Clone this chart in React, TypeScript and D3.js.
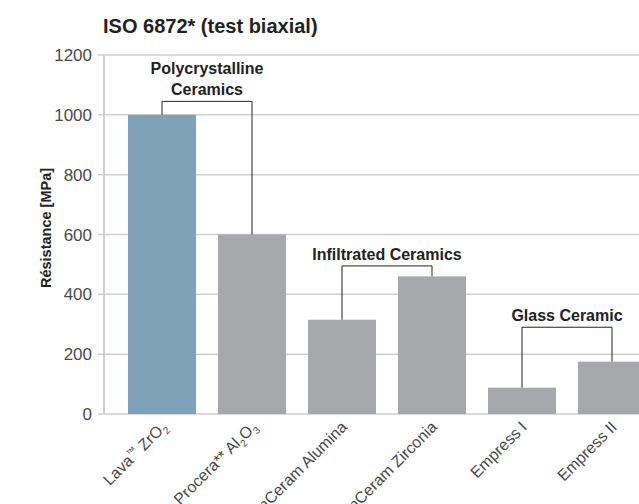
import { scaleBand, scaleLinear } from "d3";

// chart values
const categories = [
  "Lava ZrO2",
  "Procera Al2O3",
  "InCeram Alumina",
  "InCeram Zirconia",
  "Empress I",
  "Empress II",
];
const strengths = [1000, 600, 315, 460, 88, 175];
const barColors = ["#7fa2b8", "#a7a8ab", "#a7a8ab", "#a7a8ab", "#a7a8ab", "#a7a8ab"];

// x tick labels, split in runs: "n" normal, "sup" superscript, "sub" subscript
const tickLabels: [string, string][][] = [
  [["Lava", "n"], ["™", "sup"], [" ZrO", "n"], ["2", "sub"]],
  [["Procera** Al", "n"], ["2", "sub"], ["O", "n"], ["3", "sub"]],
  [["InCeram Alumina", "n"]],
  [["InCeram Zirconia", "n"]],
  [["Empress I", "n"]],
  [["Empress II", "n"]],
];

const yTicks = [0, 200, 400, 600, 800, 1000, 1200];

// bracket groups
const groupLabels = [["Polycrystalline", "Ceramics"], ["Infiltrated Ceramics"], ["Glass Ceramic"]];
const groupMembers = [
  ["Lava ZrO2", "Procera Al2O3"],
  ["InCeram Alumina", "InCeram Zirconia"],
  ["Empress I", "Empress II"],
];
const groupLevels = [1045, 495, 290];

const W = 639;
const H = 504;
const axisX = 104;
const font = "'Liberation Sans', Arial, sans-serif";

export default function App() {
  const y = scaleLinear().domain([0, 1200]).range([414, 55]);
  const x = scaleBand()
    .domain(categories)
    .range([117, 657])
    .paddingInner(22 / 90)
    .paddingOuter(11 / 90);
  const cx = (c: string) => (x(c) ?? 0) + x.bandwidth() / 2;

  return (
    <svg
      width={W}
      height={H}
      style={{ position: "absolute", left: 0, top: 0, background: "#fff" }}
      fontFamily={font}
    >
      {/* title */}
      <text x={103} y={33} fontSize={20} fontWeight="bold" fill="#222">
        ISO 6872* (test biaxial)
      </text>

      {/* grid + y ticks */}
      {yTicks.map((t) => (
        <g key={`grid-${t}`}>
          <line x1={98} x2={W} y1={y(t)} y2={y(t)} stroke="#cfcfd0" strokeWidth={1.5} />
          <text
            x={92}
            y={y(t)}
            dy="0.36em"
            textAnchor="end"
            fontSize={17}
            fill="#4a4a4a"
          >
            {t}
          </text>
        </g>
      ))}
      <line x1={axisX} x2={axisX} y1={y(1200)} y2={y(0)} stroke="#cfcfd0" strokeWidth={2} />

      {/* y title */}
      <text
        transform={`translate(51,228) rotate(-90)`}
        textAnchor="middle"
        fontSize={14.5}
        fontWeight="bold"
        fill="#222"
      >
        Résistance [MPa]
      </text>

      {/* bars */}
      {categories.map((c, i) => (
        <rect
          key={`bar-${c}`}
          x={x(c)}
          y={y(strengths[i])}
          width={x.bandwidth()}
          height={y(0) - y(strengths[i])}
          fill={barColors[i]}
        />
      ))}

      {/* brackets */}
      {groupMembers.map((g, gi) => {
        const a = g[0];
        const b = g[1];
        const ya = y(strengths[categories.indexOf(a)]);
        const yb = y(strengths[categories.indexOf(b)]);
        const top = y(groupLevels[gi]);
        const mid = (cx(a) + cx(b)) / 2;
        const lines = groupLabels[gi];
        return (
          <g key={`grp-${gi}`}>
            <path
              d={`M${cx(a)},${ya}V${top}H${cx(b)}V${yb}`}
              fill="none"
              stroke="#222"
              strokeWidth={1}
            />
            {lines.map((l, li) => (
              <text
                key={l}
                x={mid}
                y={top - 6 - (lines.length - 1 - li) * 21}
                textAnchor="middle"
                fontSize={16}
                fontWeight="bold"
                fill="#222"
              >
                {l}
              </text>
            ))}
          </g>
        );
      })}

      {/* x labels */}
      {categories.map((c, i) => (
        <text
          key={`xl-${c}`}
          transform={`translate(${cx(c) + 6},428) rotate(-45)`}
          textAnchor="end"
          fontSize={16}
          fill="#4a4a4a"
        >
          {tickLabels[i].map(([s, kind], k) => {
            const prev = k > 0 ? tickLabels[i][k - 1][1] : "n";
            const shift = (v: string) => (v === "sup" ? -6 : v === "sub" ? 4 : 0);
            return (
              <tspan
                key={k}
                dy={shift(kind) - shift(prev)}
                fontSize={kind === "n" ? 16 : 10}
              >
                {s}
              </tspan>
            );
          })}
        </text>
      ))}
    </svg>
  );
}
